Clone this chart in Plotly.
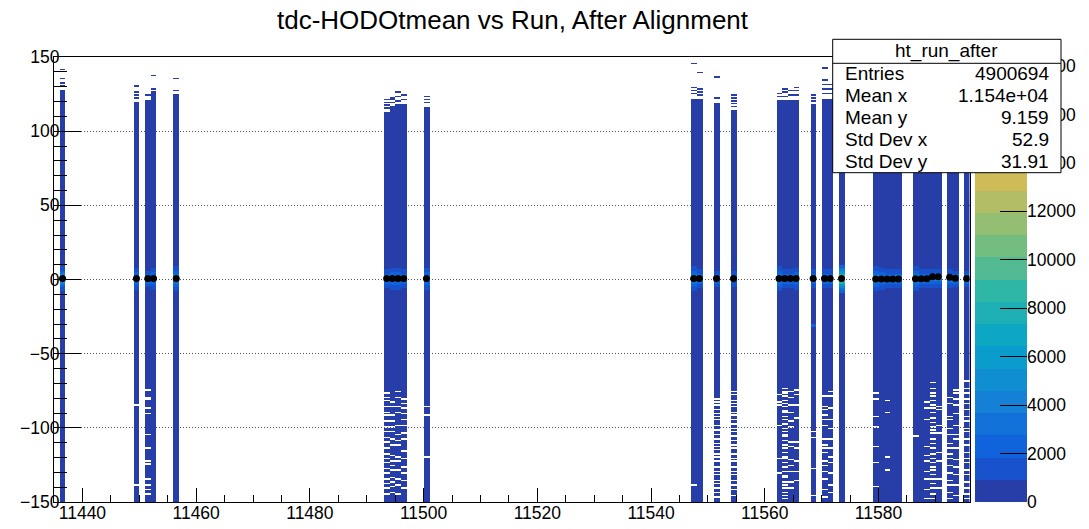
import numpy as np
import plotly.graph_objects as go

# ---------------- data ----------------
runs = [11436, 11449, 11451, 11452, 11456, 11493, 11494, 11495, 11496, 11500,
        11547, 11548, 11551, 11554, 11562, 11563, 11564, 11565, 11568, 11570,
        11571, 11573, 11579, 11580, 11581, 11582, 11583, 11586, 11587, 11588,
        11589, 11590, 11592, 11593, 11595]
solid_top = [128, 120, 121, 127, 125, 113, 117, 118, 118, 116,
             122, 122, 119, 114, 121, 121, 121, 121, 118, 122,
             122, 125, 125, 125, 125, 125, 125, 125, 125, 125,
             125, 125, 125, 125, 125]
peak_counts = [9000, 6000, 4500, 6500, 8000, 5500, 6000, 6000, 5500, 6500,
               8000, 5500, 4500, 4000, 8000, 5500, 5500, 6000, 5500, 5500,
               5500, 18370, 8500, 6000, 5500, 5500, 5500, 8000, 5500, 5000,
               5000, 5000, 5500, 4500, 4500]
profile_mean = [0.6, 0.6, 0.6, 0.6, 0.6, 0.6, 0.6, 0.6, 0.6, 0.6,
                0.6, 0.6, 0.6, 0.6, 0.6, 0.6, 0.6, 0.6, 0.6, 0.6,
                0.6, 0.6, 0.3, 0.3, 0.3, 0.3, 0.3, 0.5, 0.5, 0.5,
                1.8, 1.8, 1.6, 0.9, 0.6]
top_lines = {
    11436: [130, 132, 135, 141], 11449: [122, 124, 126, 130], 11451: [124],
    11452: [128, 137], 11456: [127, 135], 11493: [115, 117, 119, 121],
    11494: [119, 121, 122], 11495: [120, 123, 126], 11496: [121, 124],
    11500: [119, 121, 123], 11547: [125, 127, 129, 145], 11548: [124, 126, 128, 139],
    11551: [122, 136], 11554: [116, 118, 120, 122, 124], 11562: [123, 125],
    11563: [123, 126, 128], 11564: [124, 127], 11565: [124, 127, 129],
    11568: [120, 122, 124], 11570: [125, 128, 131, 134, 142], 11571: [125, 128, 131],
}
tail_gaps = {
    11449: [-85, -139],
    11451: [-75, -80, -81, -87, -91, -105, -114, -123, -125, -135, -139, -142, -145],
    11493: [-77, -80, -82, -86, -90, -92, -96, -100, -103, -107, -110, -114, -118, -121, -124, -128, -131, -135, -138, -141, -145],
    11494: [-83, -86, -92, -96, -100, -103, -108, -112, -119, -123, -126, -129, -134, -137, -140, -144],
    11495: [-76, -80, -86, -90, -99, -105, -109, -112, -120, -123, -129, -135, -139, -145],
    11496: [-81, -84, -87, -91, -95, -99, -104, -108, -116, -121, -127, -131, -136, -141],
    11500: [-86, -92, -120],
    11547: [-139],
    11551: [-81, -83, -85, -88, -91, -93, -95, -99, -102, -105, -108, -111, -113, -115, -118, -120, -123, -127, -130, -132, -136, -138, -141, -144, -147],
    11554: [-76, -78, -82, -84, -86, -90, -92, -95, -98, -101, -103, -106, -109, -112, -114, -118, -121, -123, -127, -130, -132, -136, -139, -142, -146],
    11562: [-78, -83, -85, -99, -121, -131],
    11563: [-74, -76, -77, -79, -82, -84, -86, -89, -90, -93, -95, -98, -101, -103, -105, -106, -109, -112, -114, -117, -120, -121, -124, -127, -130, -133, -134, -137, -139, -141, -144, -146, -148],
    11564: [-76, -80, -85, -90, -96, -100, -110, -113, -122, -126, -130, -137, -141],
    11565: [-75, -78, -85, -94, -110, -114, -123, -130, -136],
    11568: [-103, -107, -128, -146],
    11570: [-79, -86, -88, -92, -95, -99, -108, -112, -114, -117, -123, -126, -130, -135, -142, -147],
    11571: [-76, -79, -87, -95, -101, -108, -114, -120, -124, -131, -139, -144],
    11579: [-77, -81, -93, -100, -113, -124, -140],
    11581: [-82, -90, -120, -129],
    11586: [-106],
    11588: [-83, -87, -95, -113, -119, -123, -130, -135, -142, -148],
    11589: [-70, -74, -77, -79, -82, -85, -87, -90, -94, -97, -100, -102, -104, -108, -111, -114, -118, -121, -124, -127, -129, -132, -135, -138, -141, -145, -148],
    11590: [-86, -88, -99, -104, -117, -123, -135, -141],
    11592: [-80, -84, -93, -95, -101, -105, -111, -114, -118, -121, -126, -131, -136, -139, -144, -148],
    11593: [-75, -77, -81, -85, -91, -99, -105, -108, -114, -122, -127, -132, -139, -146],
    11595: [-69, -74, -77, -81, -84, -88, -93, -96, -101, -103, -108, -112, -117, -121, -124, -129, -132, -137, -141, -145, -148],
}
glow_profile = [0.1, 0.13, 0.16, 0.2, 0.25, 0.32, 0.42, 0.55, 0.75, 1.0,
                0.75, 0.55, 0.42, 0.32, 0.25, 0.2, 0.16, 0.13, 0.1]
spot_runs = [11568]
spot_y = [-31]
spot_counts = [2000]
body_count = 300
z_max = 18370
stats_labels = ["Entries", "Mean x", "Mean y", "Std Dev x", "Std Dev y"]
stats_values = ["4900694", "1.154e+04", "9.159", "52.9", "31.91"]

x_lo, x_hi = 11435, 11596
y_lo, y_hi = -150, 150
x_edges = list(range(x_lo, x_hi + 1))
y_edges = list(range(y_lo, y_hi + 1))

# ---------------- build histogram grid ----------------
z = np.full((y_hi - y_lo, x_hi - x_lo), np.nan)
for i, r in enumerate(runs):
    c = r - x_lo
    z[0:solid_top[i] - y_lo, c] = body_count
    for t in top_lines.get(r, []):
        z[t - y_lo, c] = body_count
    for g in tail_gaps.get(r, []):
        z[g - y_lo, c] = np.nan
    half = len(glow_profile) // 2
    for k, f in enumerate(glow_profile):
        yb = k - half
        z[yb - y_lo, c] = max(body_count, peak_counts[i] * f)
for r, yv, cnt in zip(spot_runs, spot_y, spot_counts):
    z[yv - y_lo, r - x_lo] = cnt
    z[yv - 1 - y_lo, r - x_lo] = cnt

# ---------------- ROOT kBird palette, 20 contour levels ----------------
stops = [0.0, 0.125, 0.25, 0.375, 0.5, 0.625, 0.75, 0.875, 1.0]
red = [0.2082, 0.0592, 0.0780, 0.0232, 0.1802, 0.5301, 0.8186, 0.9956, 0.9764]
green = [0.1664, 0.3599, 0.5041, 0.6419, 0.7178, 0.7492, 0.7328, 0.7862, 0.9832]
blue = [0.5293, 0.8684, 0.8385, 0.7914, 0.6425, 0.4662, 0.3499, 0.1968, 0.0539]
nlev = 20
cs = []
for i in range(nlev):
    idx = int((i + 0.99) * 255 / nlev)
    f = idx / 255.0
    rr = np.interp(f, stops, red) * 255
    gg = np.interp(f, stops, green) * 255
    bb = np.interp(f, stops, blue) * 255
    col = f"rgb({rr:.0f},{gg:.0f},{bb:.0f})"
    cs.append([i / nlev, col])
    cs.append([(i + 1) / nlev, col])

dz = z_max / nlev

FONT = "Liberation Sans, Arial, Helvetica, sans-serif"
W, H = 1089, 529
L, R, T, B = 54, 62, 57, 27
PW, PH = W - L - R, H - T - B


def px(xp):
    return (xp - L) / PW


def py(yp):
    return (H - B - yp) / PH


fig = go.Figure()
fig.add_trace(go.Heatmap(
    x=x_edges, y=y_edges, z=z, colorscale=cs, zmin=0, zmax=z_max,
    showscale=False, hoverinfo="skip", xaxis="x", yaxis="y"))
fig.add_trace(go.Scatter(
    x=[r + 0.5 for r in runs], y=profile_mean, mode="markers",
    marker=dict(color="black", size=7), hoverinfo="skip", xaxis="x", yaxis="y"))
# palette
fig.add_trace(go.Heatmap(
    x=[0, 1], y=[i * dz for i in range(nlev + 1)],
    z=[[(i + 0.5) * dz] for i in range(nlev)], colorscale=cs, zmin=0, zmax=z_max,
    showscale=False, hoverinfo="skip", xaxis="x2", yaxis="y2"))

tickfont = dict(family=FONT, size=17.5, color="black")
fig.update_layout(
    width=W, height=H, margin=dict(l=L, r=R, t=T, b=B, autoexpand=False),
    paper_bgcolor="white", plot_bgcolor="white", showlegend=False,
    title=dict(text="tdc-HODOtmean vs Run, After Alignment", x=512.5 / W, xref="container",
               xanchor="center", y=1 - 20 / H, yref="container", yanchor="middle",
               font=dict(family=FONT, size=26, color="black")),
    xaxis=dict(domain=[0, px(969.5)], range=[x_lo, x_hi], anchor="y", automargin=False,
               dtick=20, tick0=0, tickformat="d", ticks="inside", ticklen=14,
               tickcolor="black", tickwidth=1, showline=True, linecolor="black",
               mirror=True, showgrid=False, zeroline=False, tickfont=tickfont,
               ticklabelstandoff=-5,
               minor=dict(dtick=5, tick0=0, ticks="inside", ticklen=7, tickcolor="black",
                          showgrid=False)),
    yaxis=dict(domain=[0, 1], range=[y_lo, y_hi], anchor="x", automargin=False,
               dtick=50, tick0=0, tickformat="d", ticks="inside", ticklen=27,
               tickcolor="black", tickwidth=1, showline=True, linecolor="black",
               mirror=True, showgrid=True, gridcolor="#555555", gridwidth=1,
               griddash="1px,2px", zeroline=False, tickfont=tickfont,
               ticklabelstandoff=-10,
               minor=dict(dtick=10, tick0=0, ticks="inside", ticklen=13, tickcolor="black",
                          showgrid=False)),
    xaxis2=dict(domain=[px(975), 1], range=[0, 1], anchor="y2", visible=False),
    yaxis2=dict(domain=[0, 1], range=[0, z_max], anchor="x2", side="right", automargin=False,
                dtick=2000, tick0=0, tickformat="d", ticks="inside", ticklen=27,
                tickcolor="black", tickwidth=1, showline=False, showgrid=False,
                zeroline=False, tickfont=tickfont, ticklabelstandoff=-1),
)

# stats box
bx0, bx1, by0, by1 = 832.7, 1061, 39.3, 172.7
fig.add_shape(type="rect", xref="paper", yref="paper", x0=px(bx0), x1=px(bx1),
              y0=py(by1), y1=py(by0), fillcolor="white",
              line=dict(color="black", width=1), layer="above")
fig.add_shape(type="line", xref="paper", yref="paper", x0=px(bx0), x1=px(bx1),
              y0=py(63.3), y1=py(63.3), line=dict(color="black", width=1), layer="above")
sfont = dict(family=FONT, size=19, color="black")
fig.add_annotation(xref="paper", yref="paper", x=px((bx0 + bx1) / 2), y=py(51),
                   text="ht_run_after", showarrow=False, xanchor="center",
                   yanchor="middle", font=sfont)
row_y = [73.5, 95.7, 117.7, 140, 161.5]
for lab, val, yy in zip(stats_labels, stats_values, row_y):
    fig.add_annotation(xref="paper", yref="paper", x=px(843), y=py(yy), text=lab,
                       showarrow=False, xanchor="left", yanchor="middle", font=sfont)
    fig.add_annotation(xref="paper", yref="paper", x=px(1051), y=py(yy), text=val,
                       showarrow=False, xanchor="right", yanchor="middle", font=sfont)

fig.write_html("out.html")
